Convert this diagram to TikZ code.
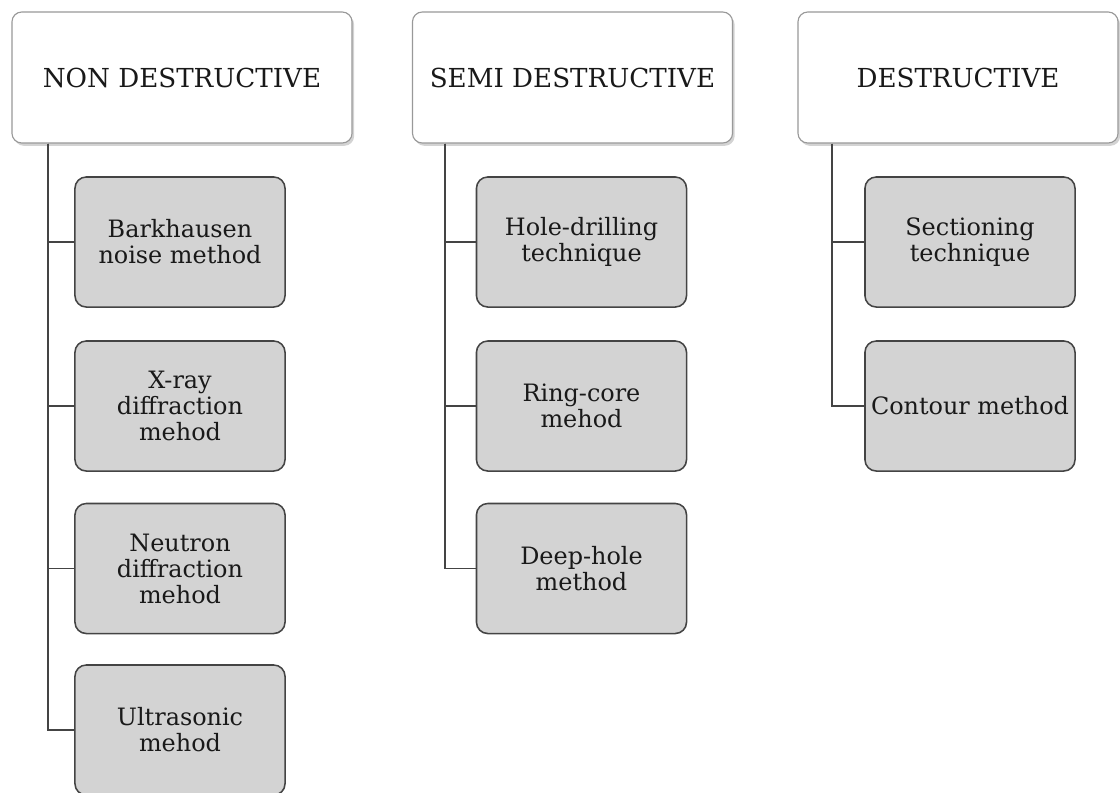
\documentclass[tikz,border=0pt]{standalone}
\usepackage{fontspec}
\setmainfont{DejaVu Serif}
\usepackage{tikz}
\usetikzlibrary{shadows}
\usetikzlibrary{arrows,shapes}
\usetikzlibrary{calc}
\definecolor{boxgray}{RGB}{211,211,211}
\definecolor{linegray}{RGB}{68,68,68}
\tikzstyle{headbox}=[rectangle,rounded corners=7pt,draw=black!40,fill=white,line width=0.8pt,
    minimum height=3.275cm,text=black!90,font=\fontsize{18.6}{22}\selectfont,
    drop shadow={opacity=0.35,shadow xshift=1.5pt,shadow yshift=-2pt}]
\tikzstyle{methodbox}=[rectangle,rounded corners=8pt,draw=linegray,fill=boxgray,line width=1.1pt,
    minimum width=5.25cm,minimum height=3.25cm,inner sep=1pt,align=center,
    text=black!90,font=\fontsize{17}{18.5}\selectfont]
\tikzstyle{branch} = [draw,linegray,line width=1.4pt]

\begin{document}
\begin{tikzpicture}[x=0.025cm,y=-0.025cm]
    \useasboundingbox (0,0) rectangle (1120,792);
    \clip (0,0) rectangle (1120,792);
    % The three families of methods
    \node[headbox,minimum width=8.5cm] (non) at (182,77.5) {NON DESTRUCTIVE};
    \node[headbox,minimum width=8cm] (semi) at (572.5,77.5) {SEMI DESTRUCTIVE};
    \node[headbox,minimum width=8cm] (dest) at (958,77.5) {DESTRUCTIVE};

    % Then the methods below each family
    \foreach \pos/ \name/ \txt in {{(180,242)/bark/{Barkhausen\\noise method}},
        {(180,406)/xray/{X-ray\\diffraction\\mehod}},
        {(180,568.5)/neut/{Neutron\\diffraction\\mehod}},
        {(180,730)/ultra/{Ultrasonic\\mehod}}}
        \node[methodbox] (\name) at \pos {\txt};

    \foreach \pos/ \name/ \txt in {{(581.5,242)/hole/{Hole-drilling\\technique}},
        {(581.5,406)/ring/{Ring-core\\mehod}},
        {(581.5,568.5)/deep/{Deep-hole\\method}}}
        \node[methodbox] (\name) at \pos {\txt};

    \foreach \pos/ \name/ \txt in {{(970,242)/sect/{Sectioning\\technique}},
        {(970,406)/cont/{Contour method}}}
        \node[methodbox] (\name) at \pos {\txt};

    % Connect each family with its methods
    \foreach \dest in {bark,xray,neut,ultra}
        \path[branch] (non.south west) ++(37,0) |- (\dest.west);
    \foreach \dest in {hole,ring,deep}
        \path[branch] (semi.south west) ++(33,0) |- (\dest.west);
    \foreach \dest in {sect,cont}
        \path[branch] (dest.south west) ++(35,0) |- (\dest.west);

\end{tikzpicture}
\end{document}
